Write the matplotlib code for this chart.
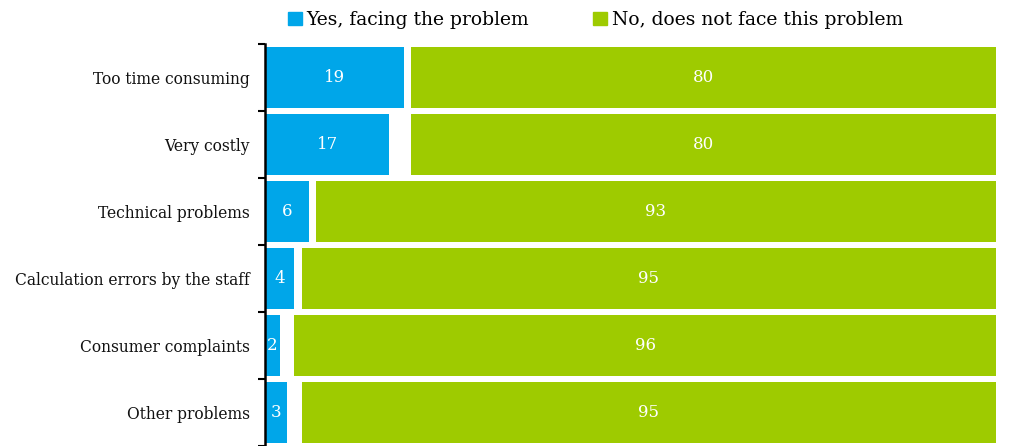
import numpy as np
import matplotlib
matplotlib.use("Agg")
import matplotlib.pyplot as plt
from matplotlib.patches import Patch

# --- Data ---
problems = ["Too time consuming", "Very costly", "Technical problems",
            "Calculation errors by the staff", "Consumer complaints", "Other problems"]
yes_share = [19, 17, 6, 4, 2, 3]
no_share = [80, 80, 93, 95, 96, 95]
# whatever is left up to 100 stays blank between the two segments
blank_share = [100 - y - n for y, n in zip(yes_share, no_share)]

BLUE = "#00a6e9"
GREEN = "#9ecb00"

plt.rcParams["font.family"] = ["DejaVu Serif"]

fig = plt.figure(figsize=(10.09, 4.46), dpi=100)
ax = fig.add_axes([0.2626, 0.0, 0.7245, 0.9013])

pos = np.arange(len(problems))
yes = np.array(yes_share)
blank = np.array(blank_share)
no = np.array(no_share)

ax.barh(pos, yes, height=0.91, color=BLUE)
ax.barh(pos, no, left=yes + blank, height=0.91, color=GREEN)

for i in range(len(problems)):
    ax.text(yes[i] / 2, pos[i], str(yes[i]), ha="center", va="center",
            color="white", fontsize=12)
    ax.text(yes[i] + blank[i] + no[i] / 2, pos[i], str(no[i]), ha="center",
            va="center", color="white", fontsize=12)

ax.set_xlim(0, 100)
ax.set_ylim(len(problems) - 0.5, -0.5)

# category names sit between the boundary ticks
ax.set_yticks(pos)
ax.set_yticklabels(problems, fontsize=11.2, color="#111111")
ax.tick_params(axis="y", which="major", length=0, pad=11)
ax.set_yticks(np.arange(len(problems) + 1) - 0.5, minor=True)
ax.tick_params(axis="y", which="minor", length=5, width=1.5, color="black")
ax.set_xticks([])

for side in ["top", "right", "bottom"]:
    ax.spines[side].set_visible(False)
ax.spines["left"].set_linewidth(1.8)
ax.spines["left"].set_color("black")

handles = [Patch(color=BLUE, label="Yes, facing the problem"),
           Patch(color=GREEN, label="No, does not face this problem")]
fig.legend(handles=handles, loc="center", bbox_to_anchor=(0.59, 0.955), ncol=2,
           frameon=False, fontsize=13.5, handlelength=0.75, handleheight=0.75,
           handletextpad=0.25, columnspacing=3.4)

fig.savefig("out.png", dpi=100)
